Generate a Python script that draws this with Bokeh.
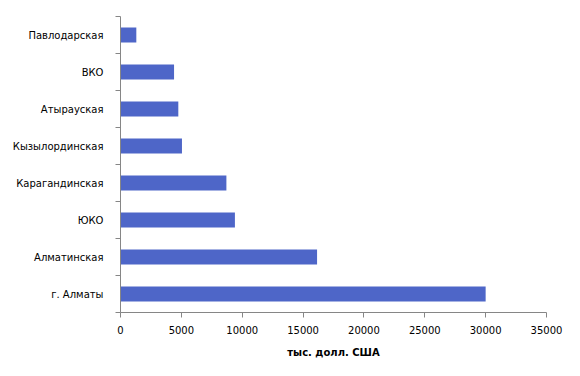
from bokeh.plotting import figure
from bokeh.models import FixedTicker, Range1d
from bokeh.embed import file_html
from bokeh.resources import INLINE

categories = ["г. Алматы", "Алматинская", "ЮКО", "Карагандинская",
              "Кызылординская", "Атырауская", "ВКО", "Павлодарская"]
values = [30000, 16150, 9400, 8700, 5050, 4750, 4400, 1300]
x_ticks = [0, 5000, 10000, 15000, 20000, 25000, 30000, 35000]
x_title = "тыс. долл. США"

centers = [i + 0.5 for i in range(len(categories))]
bounds = list(range(len(categories) + 1))

p = figure(width=580, height=376, output_backend="svg", toolbar_location=None,
           x_range=Range1d(0, 35000), y_range=Range1d(0, len(categories)),
           min_border_left=120, min_border_right=34, min_border_top=16,
           min_border_bottom=64)
p.outline_line_color = None
p.xgrid.visible = False
p.ygrid.visible = False
p.background_fill_color = "white"
p.border_fill_color = "white"

p.hbar(y=centers, right=values, left=0, height=0.4, color="#4E66C8", line_color=None)

font = "DejaVu Sans"
axis_col = "#868686"

# y axis
p.yaxis.ticker = FixedTicker(ticks=centers, minor_ticks=bounds)
p.yaxis.major_label_overrides = {c: n for c, n in zip(centers, categories)}
p.yaxis.major_tick_line_color = None
p.yaxis.major_tick_out = 0
p.yaxis.minor_tick_out = 5
p.yaxis.minor_tick_in = 0
p.yaxis.minor_tick_line_color = axis_col
p.yaxis.axis_line_color = axis_col
p.yaxis.major_label_standoff = 12
p.yaxis.major_label_text_font = font
p.yaxis.major_label_text_font_size = "10px"
p.yaxis.major_label_text_color = "black"

# x axis
p.xaxis.ticker = FixedTicker(ticks=x_ticks)
p.xaxis.minor_tick_line_color = None
p.xaxis.major_tick_out = 5
p.xaxis.major_tick_in = 0
p.xaxis.major_tick_line_color = axis_col
p.xaxis.axis_line_color = axis_col
p.xaxis.major_label_standoff = 8
p.xaxis.major_label_text_font = font
p.xaxis.major_label_text_font_size = "10px"
p.xaxis.major_label_text_color = "black"
p.xaxis.axis_label = x_title
p.xaxis.axis_label_text_font = font
p.xaxis.axis_label_text_font_size = "10px"
p.xaxis.axis_label_text_font_style = "bold"
p.xaxis.axis_label_text_color = "black"
p.xaxis.axis_label_standoff = 10

open("out.html", "w").write(file_html(p, INLINE))
